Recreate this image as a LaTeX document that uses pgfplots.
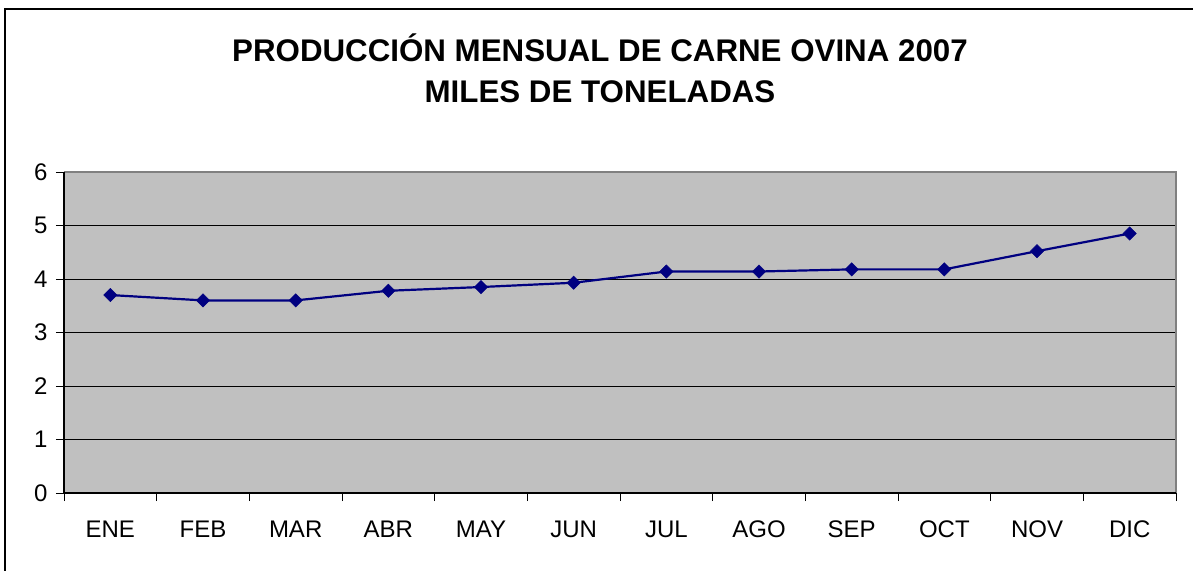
\documentclass[border=0pt]{standalone}
\usepackage{fontspec}
\setmainfont{Liberation Sans}
\usepackage{pgfplots}
\pgfplotsset{compat=1.18}
\definecolor{plotgray}{HTML}{C0C0C0}
\definecolor{navyblue}{HTML}{000080}
\definecolor{bordergray}{HTML}{808080}
\begin{document}
\begin{tikzpicture}
\useasboundingbox (-64pt,-77pt) rectangle (1129pt,493pt);
\draw[line width=2pt] (-59pt,-90pt) -- (-59pt,484pt) -- (1140pt,484pt);
\node[font=\bfseries\fontsize{31.3}{37}\selectfont, anchor=base] at (536pt,431pt) {PRODUCCIÓN MENSUAL DE CARNE OVINA 2007};
\node[font=\bfseries\fontsize{31.3}{37}\selectfont, anchor=base] at (536pt,390pt) {MILES DE TONELADAS};
\begin{axis}[
  at={(0pt,0pt)}, anchor=south west,
  scale only axis, width=1112pt, height=321pt,
  xmin=-0.5, xmax=11.5, ymin=0, ymax=6,
  axis background/.style={fill=plotgray},
  axis line style={draw=none},
  xtick={-0.5,0.5,...,11.5}, xticklabels={},
  extra x ticks={0,1,2,3,4,5,6,7,8,9,10,11},
  extra x tick labels={ENE,FEB,MAR,ABR,MAY,JUN,JUL,AGO,SEP,OCT,NOV,DIC},
  extra x tick style={major tick length=0pt, grid=none},
  ytick={0,1,2,3,4,5,6},
  xtick pos=bottom, ytick pos=left,
  tick align=outside, major tick length=8pt,
  tick style={black, line width=0.8pt},
  ymajorgrids, grid style={black, line width=1pt},
  /pgf/number format/assume math mode=true,
  tick label style={font=\fontsize{24}{28}\selectfont},
  x tick label style={yshift=-24pt},
  y tick label style={xshift=-5pt},
  clip=false,
]
\addplot[color=navyblue, line width=2.2pt, mark=square*, mark size=4.7pt, mark options={rotate=45, fill=navyblue, draw=navyblue, line width=0.5pt}]
  coordinates {(0,3.70) (1,3.60) (2,3.60) (3,3.78) (4,3.85) (5,3.93) (6,4.14) (7,4.14) (8,4.18) (9,4.18) (10,4.52) (11,4.85)};
\draw[bordergray, line width=1.5pt] (rel axis cs:0,1) -- (rel axis cs:1,1) -- (rel axis cs:1,0);
\draw[black, line width=1.2pt] (rel axis cs:0,1) -- (rel axis cs:0,0) -- (rel axis cs:1,0);
\end{axis}
\end{tikzpicture}
\end{document}
